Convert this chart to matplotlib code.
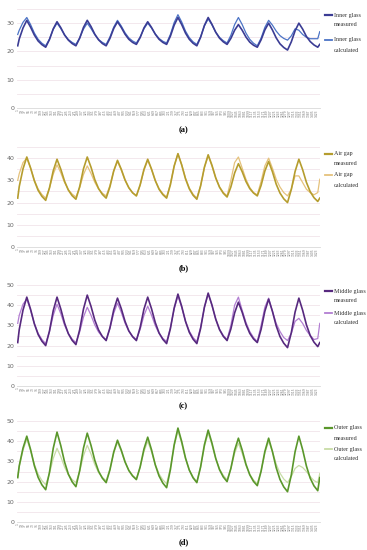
import numpy as np
import matplotlib.pyplot as plt
from matplotlib.lines import Line2D

# sampling: 10-minute records over 10 days, read every 3 h from the chart
hours = np.concatenate([[0.0], np.arange(80) * 3 + 1.2, [239.8]])
samples = hours * 6

inner_measured = [22.0,
    24.4, 28.3, 31.0, 28.6, 25.8, 23.7, 22.4, 21.5,
    24.2, 28.0, 30.5, 28.4, 25.8, 24.0, 22.8, 22.0,
    24.7, 28.5, 31.0, 28.8, 26.1, 24.1, 22.8, 22.0,
    24.6, 28.1, 30.5, 28.5, 26.1, 24.3, 23.2, 22.5,
    24.9, 28.3, 30.5, 28.5, 26.1, 24.3, 23.2, 22.5,
    25.4, 29.3, 32.0, 29.5, 26.5, 24.3, 22.9, 22.0,
    25.0, 29.2, 32.0, 29.6, 26.8, 24.7, 23.4, 22.5,
    24.6, 27.5, 29.5, 27.5, 25.1, 23.3, 22.2, 21.5,
    24.1, 27.6, 30.0, 27.6, 24.8, 22.7, 21.4, 20.5,
    23.4, 27.3, 30.0, 27.9, 25.3, 23.5, 22.3, 21.5,
    22.5]
inner_calculated = [26.0,
    27.5, 30.3, 32.0, 29.5, 26.5, 24.3, 22.9, 22.0,
    24.4, 27.8, 30.0, 28.1, 25.9, 24.2, 23.2, 22.5,
    24.8, 27.9, 30.0, 28.1, 25.9, 24.2, 23.2, 22.5,
    25.1, 28.6, 31.0, 29.0, 26.6, 24.8, 23.7, 23.0,
    25.1, 28.0, 30.0, 28.3, 26.2, 24.6, 23.6, 23.0,
    26.0, 30.2, 33.0, 30.4, 27.2, 24.9, 23.4, 22.5,
    25.2, 29.0, 31.5, 29.4, 26.8, 25.0, 23.8, 23.0,
    25.7, 29.5, 32.0, 29.5, 26.5, 24.3, 22.9, 22.0,
    24.7, 28.5, 31.0, 29.3, 27.2, 25.6, 24.6, 24.0,
    25.5, 28.0, 27.5, 26.0, 25.0, 24.5, 24.5, 24.5,
    27.0]

air_measured = [22.0,
    27.2, 35.2, 40.5, 35.6, 29.8, 25.5, 22.8, 21.0,
    26.6, 34.3, 39.5, 35.0, 29.6, 25.6, 23.1, 21.5,
    27.2, 35.2, 40.5, 35.9, 30.3, 26.3, 23.7, 22.0,
    27.1, 34.2, 39.0, 35.0, 30.2, 26.7, 24.4, 23.0,
    28.0, 34.9, 39.5, 35.1, 29.9, 26.0, 23.6, 22.0,
    28.0, 36.4, 42.0, 36.9, 30.7, 26.2, 23.3, 21.5,
    27.5, 35.9, 41.5, 36.8, 31.1, 26.9, 24.2, 22.5,
    27.0, 33.3, 37.5, 33.9, 29.5, 26.3, 24.3, 23.0,
    27.7, 34.2, 38.5, 33.9, 28.3, 24.3, 21.7, 20.0,
    25.9, 34.0, 39.5, 34.8, 29.1, 24.9, 22.2, 20.5,
    22.0]
air_calculated = [30.0,
    33.0, 38.0, 40.0, 35.5, 30.1, 26.1, 23.6, 22.0,
    26.5, 32.8, 37.0, 33.4, 29.0, 25.8, 23.8, 22.5,
    26.7, 32.6, 36.5, 33.1, 29.1, 26.1, 24.2, 23.0,
    27.7, 34.2, 38.5, 34.6, 30.0, 26.6, 24.4, 23.0,
    27.8, 34.5, 39.0, 34.9, 29.9, 26.3, 24.0, 22.5,
    28.4, 36.5, 42.0, 37.0, 31.0, 26.6, 23.8, 22.0,
    27.7, 35.7, 41.0, 36.5, 31.1, 27.1, 24.6, 23.0,
    30.0, 38.0, 40.5, 35.5, 30.5, 26.8, 24.5, 23.5,
    29.5, 36.5, 40.0, 35.5, 30.5, 27.0, 24.5, 23.0,
    26.0, 32.0, 32.0, 29.0, 26.0, 24.5, 23.5, 24.5,
    30.5]

middle_measured = [21.5,
    27.9, 37.6, 44.0, 38.0, 30.8, 25.5, 22.2, 20.0,
    27.2, 37.3, 44.0, 38.1, 31.1, 25.9, 22.6, 20.5,
    27.9, 38.1, 45.0, 39.4, 32.6, 27.7, 24.5, 22.5,
    28.8, 37.6, 43.5, 38.3, 32.0, 27.3, 24.4, 22.5,
    29.0, 38.0, 44.0, 38.3, 31.4, 26.3, 23.1, 21.0,
    28.4, 38.6, 45.5, 39.4, 32.0, 26.6, 23.2, 21.0,
    28.5, 39.0, 46.0, 40.1, 33.1, 27.9, 24.6, 22.5,
    28.2, 36.2, 41.5, 36.5, 30.5, 26.1, 23.3, 21.5,
    28.0, 37.0, 43.0, 37.0, 29.8, 24.5, 21.2, 19.0,
    26.4, 36.6, 43.5, 37.5, 30.3, 25.0, 21.7, 19.5,
    21.5]
middle_calculated = [31.0,
    35.0, 40.5, 43.0, 37.5, 30.9, 26.1, 23.0, 21.0,
    26.9, 35.0, 40.5, 35.8, 30.1, 25.9, 23.2, 21.5,
    26.8, 34.1, 39.0, 35.0, 30.2, 26.7, 24.4, 23.0,
    28.4, 36.0, 41.0, 36.5, 31.1, 27.1, 24.6, 23.0,
    28.0, 34.9, 39.5, 35.1, 29.9, 26.0, 23.6, 22.0,
    28.8, 38.2, 44.5, 38.9, 32.1, 27.2, 24.0, 22.0,
    29.1, 38.9, 45.5, 39.9, 33.1, 28.2, 25.0, 23.0,
    30.0, 40.0, 44.0, 37.5, 31.5, 27.0, 24.0, 22.0,
    30.0, 39.0, 43.5, 37.0, 31.0, 27.0, 24.0, 22.5,
    26.0, 32.0, 33.5, 31.0, 27.5, 25.0, 23.0, 23.5,
    31.0]

outer_measured = [22.0,
    27.8, 36.6, 42.5, 35.9, 27.9, 22.1, 18.4, 16.0,
    24.6, 36.5, 44.5, 37.8, 29.7, 23.7, 19.9, 17.5,
    25.5, 36.6, 44.0, 37.9, 30.5, 25.1, 21.7, 19.5,
    25.8, 34.6, 40.5, 35.6, 29.8, 25.5, 22.8, 21.0,
    27.3, 36.1, 42.0, 35.8, 28.3, 22.8, 19.3, 17.0,
    25.9, 38.2, 46.5, 39.8, 31.7, 25.7, 21.9, 19.5,
    27.3, 38.2, 45.5, 39.1, 31.5, 25.9, 22.3, 20.0,
    26.5, 35.5, 41.5, 35.6, 28.6, 23.4, 20.1, 18.0,
    25.1, 34.9, 41.5, 34.9, 26.9, 21.1, 17.4, 15.0,
    23.3, 34.8, 42.5, 35.8, 27.7, 21.7, 17.9, 15.5,
    22.0]
outer_calculated = [22.0,
    27.4, 35.5, 41.0, 35.4, 28.6, 23.7, 20.5, 18.5,
    23.9, 31.5, 36.5, 32.3, 27.2, 23.4, 21.0, 19.5,
    25.0, 32.8, 38.0, 33.6, 28.4, 24.5, 22.1, 20.5,
    26.2, 34.2, 39.5, 35.0, 29.6, 25.6, 23.1, 21.5,
    27.1, 34.8, 40.0, 34.8, 28.5, 23.8, 20.9, 19.0,
    26.8, 37.7, 45.0, 38.8, 31.3, 25.8, 22.3, 20.0,
    27.2, 37.3, 44.0, 38.3, 31.4, 26.3, 23.1, 21.0,
    26.4, 34.0, 39.0, 34.0, 28.0, 23.6, 20.8, 19.0,
    25.3, 34.1, 40.0, 34.9, 28.7, 24.2, 21.3, 19.5,
    22.5, 26.5, 28.0, 27.0, 25.0, 22.5, 20.5, 19.5,
    24.0]

tick_pos = np.arange(0, 1440, 18)
tick_labels = [str(p + 1) for p in tick_pos]

panels = [
    ("Inner glass", inner_measured, inner_calculated, "#3b3c94", "#4c74c6", 35, "(a)"),
    ("Air gap", air_measured, air_calculated, "#b59d2e", "#e5c27c", 45, "(b)"),
    ("Middle glass", middle_measured, middle_calculated, "#57297f", "#b27ed2", 50, "(c)"),
    ("Outer glass", outer_measured, outer_calculated, "#5a972b", "#c8dca6", 50, "(d)"),
]
# axes boxes in figure fraction (left, bottom, width, height)
boxes = [(0.046, 0.8036, 0.826, 0.180),
         (0.046, 0.5509, 0.826, 0.1818),
         (0.046, 0.2982, 0.826, 0.1836),
         (0.046, 0.0509, 0.826, 0.1836)]
letter_y = [0.7636, 0.5127, 0.2618, 0.0145]
# legend rows (pixels from top) for measured / calculated entries
legend_rows = [(15, 40), (154, 175), (291, 313), (428, 449)]

W, H = 367, 550
fig = plt.figure(figsize=(W / 100, H / 100), dpi=100)

for (name, meas, calc, c_meas, c_calc, ymax, letter), box, ly, rows in zip(
        panels, boxes, letter_y, legend_rows):
    ax = fig.add_axes(box)
    ax.plot(samples, meas, color=c_meas, lw=1.2, zorder=3)
    ax.plot(samples, calc, color=c_calc, lw=0.9, zorder=2)
    ax.set_xlim(-4, 1440)
    ax.set_ylim(0, ymax)
    ax.set_yticks(np.arange(0, ymax + 1, 10))
    ax.set_yticks(np.arange(0, ymax + 1, 5), minor=True)
    ax.grid(True, which="both", axis="y", color="#f1e4ea", lw=0.6)
    ax.set_axisbelow(True)
    ax.set_xticks(tick_pos)
    ax.set_xticklabels(tick_labels, rotation=90, fontsize=2.2, color="#777777")
    ax.tick_params(axis="y", labelsize=4.5, labelcolor="#666666", length=0, pad=2)
    ax.tick_params(axis="y", which="minor", length=0)
    ax.tick_params(axis="x", length=0, pad=1)
    for s in ["top", "right", "left"]:
        ax.spines[s].set_visible(False)
    ax.spines["bottom"].set_color("#d9d9d9")
    ax.spines["bottom"].set_linewidth(0.6)

    # legend drawn by hand to match the two-line entries
    for py, color, kind, lw in [(rows[0], c_meas, "measured", 1.6),
                                (rows[1], c_calc, "calculated", 1.3)]:
        fig.add_artist(Line2D([325 / W, 332 / W], [1 - py / H] * 2, color=color, lw=lw))
        fig.text(334 / W, 1 - py / H, name, va="center", ha="left", fontsize=4.4,
                 family="Liberation Serif", color="#333333")
        fig.text(334 / W, 1 - (py + 10) / H, kind, va="center", ha="left", fontsize=4.4,
                 family="Liberation Serif", color="#333333")

    fig.text(0.5, ly, letter, ha="center", va="center", fontsize=6,
             family="Liberation Serif", fontweight="bold")

plt.savefig("out.png", dpi=100)
